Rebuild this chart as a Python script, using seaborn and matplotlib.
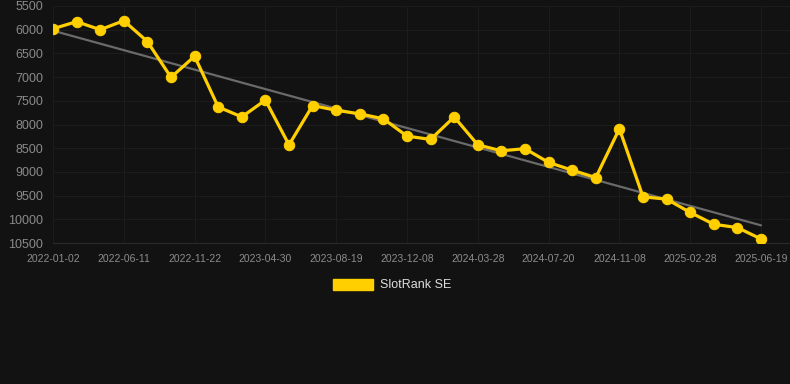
import numpy as np
import pandas as pd
import matplotlib
matplotlib.use("Agg")
import matplotlib.pyplot as plt
import matplotlib.patches as mpatches
import seaborn as sns

# 순위 데이터 (값이 작을수록 상위 -> y축 뒤집기)
rank_values = [5980, 5830, 6000, 5810, 6250, 7005, 6560, 7630, 7840, 7485,
               8430, 7600, 7700, 7775, 7880, 8245, 8315, 7840, 8430, 8555,
               8510, 8800, 8965, 9120, 8090, 9525, 9575, 9855, 10105, 10175,
               10415]
tick_labels = ['2022-01-02', '2022-06-11', '2022-11-22', '2023-04-30',
               '2023-08-19', '2023-12-08', '2024-03-28', '2024-07-20',
               '2024-11-08', '2025-02-28', '2025-06-19']
y_ticks = [5500, 6000, 6500, 7000, 7500, 8000, 8500, 9000, 9500, 10000, 10500]
series_name = 'SlotRank SE'

bg = '#121212'
yellow = '#ffcf00'
grid_c = '#1c1c1c'

df = pd.DataFrame({'idx': np.arange(len(rank_values)), 'rank': rank_values})

sns.set_style("dark", {
    'axes.facecolor': bg,
    'figure.facecolor': bg,
    'grid.color': grid_c,
    'axes.grid': True,
})
plt.rcParams['font.family'] = ['Liberation Sans', 'DejaVu Sans']

fig = plt.figure(figsize=(7.9, 3.84), dpi=100)
ax = fig.add_axes([53 / 790, 1 - 243 / 384, 1 - 53 / 790, (243 - 6) / 384])

# 추세선 (선형 회귀)
sns.regplot(data=df, x='idx', y='rank', scatter=False, ci=None, ax=ax,
            line_kws={'color': '#6a6a6a', 'linewidth': 1.6, 'zorder': 2})

# 순위 라인
sns.lineplot(data=df, x='idx', y='rank', ax=ax, color=yellow, linewidth=2.3,
             marker='o', markersize=7.5, markeredgecolor=yellow, zorder=3)

ax.set_ylim(10500, 5500)
ax.set_xlim(0, (790 - 53) / 23.6)
ax.set_yticks(y_ticks)
ax.set_yticklabels([str(v) for v in y_ticks])
ax.set_xticks(np.arange(0, len(rank_values), 3))
ax.set_xticklabels(tick_labels)
ax.set_xlabel('')
ax.set_ylabel('')

ax.tick_params(axis='y', colors='#8a8a8a', labelsize=9, length=0, pad=7)
ax.tick_params(axis='x', colors='#8c8c8c', labelsize=7.5, length=4,
               width=0.8, pad=4)
for t in ax.get_xticklines():
    t.set_color('#2a2a2a')
ax.grid(True, color=grid_c, linewidth=0.8)
for s in ['top', 'right', 'left']:
    ax.spines[s].set_visible(False)
ax.spines['bottom'].set_color('#2a2a2a')
ax.spines['bottom'].set_linewidth(0.8)

# 범례 (그래프 아래)
handle = mpatches.Patch(color=yellow, label=series_name)
fig.legend(handles=[handle], loc='center', bbox_to_anchor=(392 / 790, 1 - 285 / 384),
           frameon=False, fontsize=9, labelcolor='#dddddd',
           handlelength=3.2, handleheight=1.0, handletextpad=0.5)

plt.savefig('out.png', dpi=100, facecolor=bg)
